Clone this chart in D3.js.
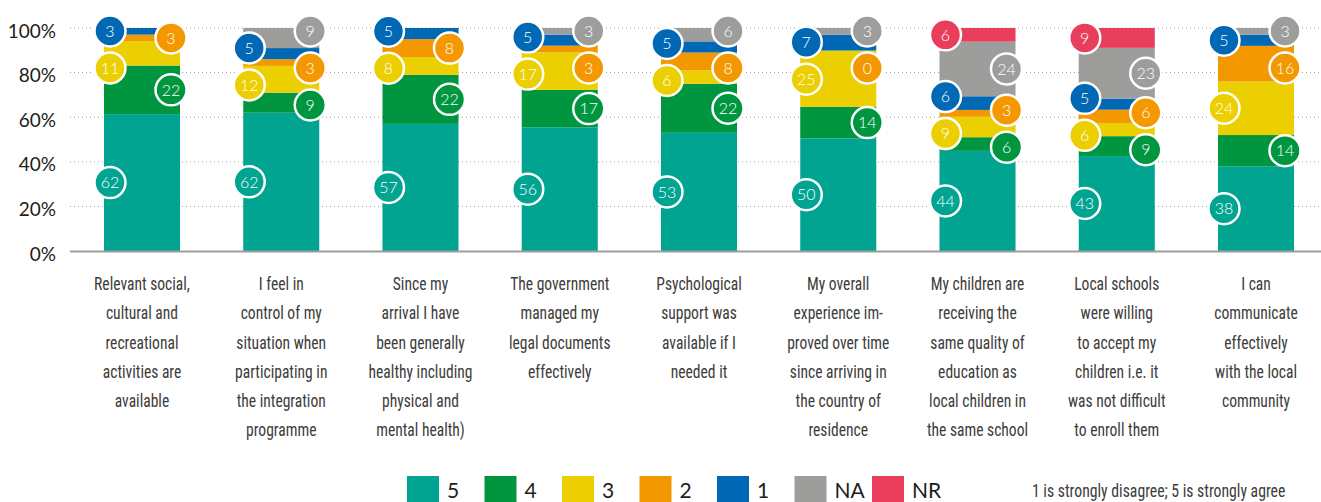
<!DOCTYPE html>
<html>
<head>
<meta charset="utf-8">
<title>integration survey - stacked bars</title>
<style>
  body { margin: 0; background: #fff; }
  svg { display: block; }
  .axis-label { font: 19px Lato, sans-serif; fill: #1d1d1b; }
  .cat-label { font-family: "Liberation Sans Narrow", "Roboto Condensed", "DejaVu Sans Condensed", sans-serif; font-size: 17.5px; fill: #3c3c3b; }
  .bubble text { font: 300 16px Lato, sans-serif; fill: #fff; }
  .legend text { font: 21px Lato, sans-serif; fill: #1d1d1b; }
</style>
<script src="https://cdnjs.cloudflare.com/ajax/libs/d3/7.8.5/d3.min.js"></script>
</head>
<body>
<script>
// categories, one array of lines each (line breaks as in the original)
const categories = [
  ["Relevant social,", "cultural and", "recreational", "activities are", "available"],
  ["I feel in", "control of my", "situation when", "participating in", "the integration", "programme"],
  ["Since my", "arrival I have", "been generally", "healthy including", "physical and", "mental health)"],
  ["The government", "managed my", "legal documents", "effectively"],
  ["Psychological", "support was", "available if I", "needed it"],
  ["My overall", "experience im-", "proved over time", "since arriving in", "the country of", "residence"],
  ["My children are", "receiving the", "same quality of", "education as", "local children in", "the same school"],
  ["Local schools", "were willing", "to accept my", "children i.e. it", "was not difficult", "to enroll them"],
  ["I can", "communicate", "effectively", "with the local", "community"]
];

const seriesKeys = ["5", "4", "3", "2", "1", "NA", "NR"];
const seriesColors = ["#00a491", "#009640", "#eccf00", "#f39800", "#0068b4", "#9d9d9c", "#e83e5c"];

// percentages per answer (null = not reported / no label)
const v5 = [62, 62, 57, 56, 53, 50, 44, 43, 38];
const v4 = [22, 9, 22, 17, 22, 14, 6, 9, 14];
const v3 = [11, 12, 8, 17, 6, 25, 9, 6, 24];
const v2 = [3, 3, 8, 3, 8, 0, 3, 6, 16];
const v1 = [3, 5, 5, 5, 5, 7, 6, 5, 5];
const vNA = [null, 9, null, 3, 6, 3, 24, 23, 3];
const vNR = [null, null, null, null, null, null, 6, 9, null];

const yTicks = [0, 20, 40, 60, 80, 100];
const note = "1 is strongly disagree; 5 is strongly agree";

const W = 1321, H = 502;
const narrow = 0.89; // squeeze the label font to a condensed look
const series = [v5, v4, v3, v2, v1, vNA, vNR];

const rows = categories.map((c, i) => {
  const r = { id: i };
  seriesKeys.forEach((k, j) => r[k] = series[j][i]);
  r.total = d3.sum(seriesKeys, k => r[k] || 0);
  return r;
});

const x = d3.scaleBand()
  .domain(rows.map(d => d.id))
  .range([70, 1328])
  .paddingInner(0.454)
  .paddingOuter(0.244);

const y = d3.scaleLinear().domain([0, 100]).range([251, 28]);

const color = d3.scaleOrdinal().domain(seriesKeys).range(seriesColors);

const svg = d3.select("body").append("svg")
  .attr("width", W)
  .attr("height", H);

// grid
svg.append("g")
  .selectAll("line")
  .data(yTicks.filter(t => t > 0))
  .join("line")
  .attr("x1", 70).attr("x2", W)
  .attr("y1", d => y(d)).attr("y2", d => y(d))
  .attr("stroke", "#9d9d9c")
  .attr("stroke-width", 1)
  .attr("stroke-dasharray", "1 3");

svg.append("g")
  .selectAll("text")
  .data(yTicks)
  .join("text")
  .attr("class", "axis-label")
  .attr("x", 56)
  .attr("y", d => y(d) + 9.5)
  .attr("text-anchor", "end")
  .text(d => d + "%");

// stacked bars, each bar scaled to 100%
const stack = d3.stack()
  .keys(seriesKeys)
  .value((d, k) => (d[k] || 0) / d.total * 100);
const stacked = stack(rows);

svg.append("g")
  .selectAll("g")
  .data(stacked)
  .join("g")
  .attr("fill", d => color(d.key))
  .selectAll("rect")
  .data(d => d)
  .join("rect")
  .attr("x", d => x(d.data.id))
  .attr("width", x.bandwidth())
  .attr("y", d => y(d[1]))
  .attr("height", d => y(d[0]) - y(d[1]));

// baseline
svg.append("line")
  .attr("x1", 70).attr("x2", W)
  .attr("y1", y(0) + 0.5).attr("y2", y(0) + 0.5)
  .attr("stroke", "#9d9d9c")
  .attr("stroke-width", 2);

// value bubbles, alternating left / right edge, spread so they don't overlap
const bubbles = [];
rows.forEach((r, i) => {
  const sides = [[], []];
  stacked.forEach((s, j) => {
    if (r[s.key] === null) return;
    const seg = s[i];
    const side = j % 2;
    sides[side].push({
      key: s.key, value: r[s.key], side: side,
      cx: side === 0 ? x(r.id) + 6 : x(r.id) + x.bandwidth() - 9,
      cy: y((seg[0] + seg[1]) / 2)
    });
  });
  sides.forEach(list => {
    list.sort((a, b) => a.cy - b.cy);
    const gap = 37;
    for (let it = 0; it < 30; it++) {
      for (let k = 1; k < list.length; k++) {
        const d = list[k].cy - list[k - 1].cy;
        if (d < gap) {
          const m = (gap - d) / 2;
          list[k - 1].cy -= m;
          list[k].cy += m;
        }
      }
      list.forEach(b => { if (b.cy < 31) b.cy = 31; });
    }
    bubbles.push(...list);
  });
});

const bub = svg.append("g")
  .selectAll("g")
  .data(bubbles)
  .join("g")
  .attr("class", "bubble")
  .attr("transform", d => `translate(${d.cx},${d.cy})`);

bub.append("circle")
  .attr("r", 15.5)
  .attr("fill", d => color(d.key))
  .attr("stroke", "#fff")
  .attr("stroke-width", 2.5);

bub.append("text")
  .attr("text-anchor", "middle")
  .attr("dy", "0.36em")
  .text(d => d.value);

// category labels
svg.append("g")
  .selectAll("g")
  .data(rows)
  .join("g")
  .attr("transform", d => `translate(${x(d.id) + x.bandwidth() / 2},0) scale(${narrow},1)`)
  .append("text")
  .attr("class", "cat-label")
  .attr("text-anchor", "middle")
  .selectAll("tspan")
  .data(d => categories[d.id].map((t, k) => ({ t, k })))
  .join("tspan")
  .attr("x", 0)
  .attr("y", d => 290 + d.k * 29.3)
  .text(d => d.t);

// legend
const legend = svg.append("g")
  .attr("class", "legend")
  .selectAll("g")
  .data(seriesKeys)
  .join("g")
  .attr("transform", (d, i) => `translate(${407 + i * 77.5},476)`);

legend.append("rect")
  .attr("width", 32)
  .attr("height", 26)
  .attr("fill", d => color(d));

legend.append("text")
  .attr("x", 40)
  .attr("y", 22)
  .text(d => d);

svg.append("g")
  .attr("transform", `translate(1032,0) scale(0.9,1)`)
  .append("text")
  .attr("class", "cat-label")
  .attr("y", 497)
  .text(note);
</script>
</body>
</html>
